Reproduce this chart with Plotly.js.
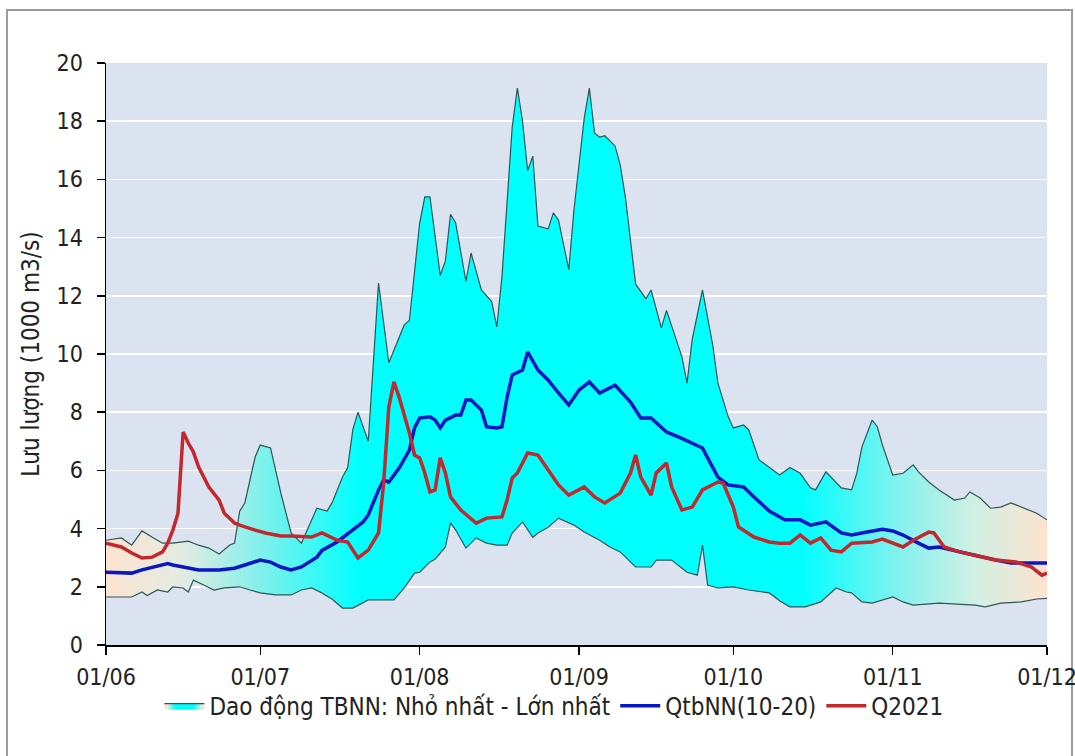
<!DOCTYPE html>
<html><head><meta charset="utf-8">
<script src="https://cdn.plot.ly/plotly-3.0.1.min.js"></script>
<style>
html,body{margin:0;padding:0;background:#fff;width:1075px;height:756px;overflow:hidden;}
#frame{position:absolute;left:6px;top:9px;width:1067px;height:800px;border:2px solid #9c9c9c;border-bottom:none;box-sizing:border-box;}
#chart{position:absolute;left:0;top:0;width:1075px;height:756px;}
</style></head><body><div id="frame"></div><div id="chart"></div>
<script>
// Upper bound of multi-year range (Lớn nhất)
const maxDates = ['2021-06-01','2021-06-04','2021-06-06','2021-06-08','2021-06-10','2021-06-12','2021-06-14','2021-06-17','2021-06-19','2021-06-21','2021-06-23','2021-06-25','2021-06-26','2021-06-27','2021-06-28','2021-06-30',
'2021-07-01','2021-07-03','2021-07-05','2021-07-07','2021-07-09','2021-07-11','2021-07-12','2021-07-14','2021-07-15','2021-07-17','2021-07-18','2021-07-19','2021-07-20','2021-07-22','2021-07-24','2021-07-26','2021-07-28','2021-07-29','2021-07-30',
'2021-08-01','2021-08-02','2021-08-03','2021-08-05','2021-08-06','2021-08-07','2021-08-08','2021-08-10','2021-08-11','2021-08-13','2021-08-14','2021-08-15','2021-08-16','2021-08-17','2021-08-19','2021-08-20','2021-08-21','2021-08-22','2021-08-23','2021-08-24','2021-08-26','2021-08-27','2021-08-28','2021-08-30','2021-08-31',
'2021-09-02','2021-09-03','2021-09-04','2021-09-05','2021-09-06','2021-09-08','2021-09-09','2021-09-10','2021-09-11','2021-09-12','2021-09-14','2021-09-15','2021-09-17','2021-09-18','2021-09-21','2021-09-22','2021-09-23','2021-09-25','2021-09-27','2021-09-28','2021-09-30',
'2021-10-01','2021-10-03','2021-10-04','2021-10-06','2021-10-08','2021-10-10','2021-10-12','2021-10-14','2021-10-16','2021-10-17','2021-10-19','2021-10-20','2021-10-22','2021-10-24','2021-10-25','2021-10-26','2021-10-28','2021-10-29','2021-10-30',
'2021-11-01','2021-11-03','2021-11-05','2021-11-06','2021-11-08','2021-11-10','2021-11-13','2021-11-15','2021-11-16','2021-11-18','2021-11-20','2021-11-22','2021-11-24','2021-11-26','2021-11-29','2021-12-01'];
const maxVals = [3.6,3.68,3.43,3.92,3.7,3.5,3.5,3.57,3.43,3.33,3.13,3.43,3.5,4.6,4.88,6.46,
6.87,6.77,5.22,3.85,3.5,4.3,4.7,4.6,4.9,5.77,6.1,7.4,8.0,7.0,12.44,9.7,10.6,11.0,11.15,
14.5,15.4,15.4,12.7,13.2,14.8,14.5,12.5,13.47,12.2,12.0,11.8,10.93,12.65,17.8,19.14,18.0,16.3,16.8,14.4,14.3,14.85,14.6,12.9,14.95,
18.1,19.14,17.6,17.45,17.5,17.15,16.5,15.4,13.8,12.4,11.9,12.2,10.9,11.5,9.9,9.0,10.5,12.2,10.3,9.0,7.84,
7.46,7.56,7.39,6.36,6.1,5.84,6.1,5.9,5.4,5.33,5.95,5.77,5.4,5.33,5.9,6.8,7.73,7.5,6.87,
5.84,5.9,6.19,5.95,5.6,5.33,4.98,5.05,5.26,5.05,4.7,4.74,4.88,4.74,4.53,4.3];

// Lower bound (Nhỏ nhất)
const minDates = ['2021-06-01','2021-06-06','2021-06-08','2021-06-09','2021-06-11','2021-06-13','2021-06-14','2021-06-16','2021-06-17','2021-06-18','2021-06-20','2021-06-22','2021-06-24','2021-06-27','2021-06-29',
'2021-07-01','2021-07-04','2021-07-07','2021-07-09','2021-07-11','2021-07-13','2021-07-15','2021-07-17','2021-07-19','2021-07-22','2021-07-24','2021-07-27','2021-07-29','2021-07-31',
'2021-08-01','2021-08-03','2021-08-04','2021-08-06','2021-08-07','2021-08-08','2021-08-10','2021-08-11','2021-08-12','2021-08-14','2021-08-16','2021-08-18','2021-08-19','2021-08-21','2021-08-22','2021-08-23','2021-08-24','2021-08-26','2021-08-28','2021-08-31',
'2021-09-02','2021-09-05','2021-09-07','2021-09-09','2021-09-12','2021-09-15','2021-09-16','2021-09-19','2021-09-22','2021-09-24','2021-09-25','2021-09-26','2021-09-28',
'2021-10-01','2021-10-04','2021-10-08','2021-10-10','2021-10-12','2021-10-15','2021-10-18','2021-10-21','2021-10-23','2021-10-24','2021-10-26','2021-10-28','2021-10-30',
'2021-11-01','2021-11-03','2021-11-05','2021-11-10','2021-11-14','2021-11-17','2021-11-19','2021-11-22','2021-11-26','2021-11-29','2021-12-01'];
const minVals = [1.65,1.65,1.82,1.7,1.89,1.82,2.0,1.96,1.82,2.23,2.06,1.89,1.96,2.0,1.89,
1.79,1.72,1.72,1.89,1.96,1.79,1.57,1.27,1.27,1.55,1.55,1.55,1.96,2.47,
2.5,2.85,2.95,3.37,4.2,3.95,3.33,3.5,3.68,3.5,3.43,3.43,3.85,4.23,3.95,3.7,3.85,4.05,4.36,4.12,
3.88,3.6,3.37,3.2,2.68,2.68,2.92,2.92,2.5,2.4,3.43,2.06,1.96,
2.0,1.89,1.79,1.52,1.31,1.31,1.48,1.96,1.82,1.79,1.48,1.44,1.55,
1.65,1.48,1.37,1.44,1.41,1.37,1.31,1.44,1.48,1.58,1.6];

// QtbNN(10-20)
const avgDates = ['2021-06-01','2021-06-04','2021-06-06','2021-06-08','2021-06-10','2021-06-13','2021-06-14','2021-06-17','2021-06-19','2021-06-23','2021-06-26','2021-06-28',
'2021-07-01','2021-07-03','2021-07-05','2021-07-07','2021-07-09','2021-07-12','2021-07-13','2021-07-16','2021-07-19','2021-07-21','2021-07-22','2021-07-24','2021-07-25','2021-07-26','2021-07-28','2021-07-30','2021-07-31',
'2021-08-01','2021-08-03','2021-08-04','2021-08-05','2021-08-06','2021-08-08','2021-08-09','2021-08-10','2021-08-11','2021-08-13','2021-08-14','2021-08-16','2021-08-17','2021-08-18','2021-08-19','2021-08-21','2021-08-22','2021-08-24','2021-08-25','2021-08-26','2021-08-28','2021-08-30',
'2021-09-01','2021-09-03','2021-09-05','2021-09-08','2021-09-11','2021-09-13','2021-09-15','2021-09-18','2021-09-21','2021-09-23','2021-09-25','2021-09-26','2021-09-28','2021-09-30',
'2021-10-03','2021-10-05','2021-10-08','2021-10-11','2021-10-14','2021-10-16','2021-10-19','2021-10-22','2021-10-24','2021-10-27','2021-10-30',
'2021-11-01','2021-11-03','2021-11-06','2021-11-08','2021-11-10','2021-11-14','2021-11-17','2021-11-21','2021-11-24','2021-11-28','2021-12-01'];
const avgVals = [2.5,2.5,2.47,2.58,2.68,2.8,2.75,2.64,2.58,2.58,2.64,2.75,
2.92,2.85,2.68,2.58,2.68,3.02,3.25,3.55,3.95,4.23,4.47,5.33,5.67,5.6,6.08,6.7,7.46,
7.8,7.84,7.73,7.46,7.73,7.9,7.9,8.42,8.42,8.08,7.5,7.46,7.5,8.52,9.28,9.45,10.07,9.45,9.28,9.1,8.66,8.25,
8.76,9.04,8.66,8.93,8.35,7.8,7.8,7.32,7.1,6.94,6.77,6.43,5.77,5.5,
5.43,5.09,4.6,4.3,4.3,4.12,4.23,3.85,3.78,3.88,3.98,
3.92,3.78,3.5,3.33,3.37,3.2,3.06,2.92,2.82,2.82,2.82];

// Q2021
const q2021Dates = ['2021-06-01','2021-06-04','2021-06-06','2021-06-08','2021-06-10','2021-06-12','2021-06-13','2021-06-14','2021-06-15','2021-06-16','2021-06-17','2021-06-18','2021-06-19','2021-06-21','2021-06-23','2021-06-24','2021-06-26','2021-06-27','2021-06-30',
'2021-07-02','2021-07-05','2021-07-07','2021-07-11','2021-07-13','2021-07-16','2021-07-18','2021-07-20','2021-07-22','2021-07-24','2021-07-25','2021-07-26','2021-07-27','2021-07-28','2021-07-30','2021-07-31',
'2021-08-01','2021-08-02','2021-08-03','2021-08-04','2021-08-05','2021-08-06','2021-08-07','2021-08-09','2021-08-11','2021-08-12','2021-08-14','2021-08-17','2021-08-18','2021-08-19','2021-08-20','2021-08-22','2021-08-24','2021-08-26','2021-08-28','2021-08-30',
'2021-09-02','2021-09-04','2021-09-06','2021-09-09','2021-09-11','2021-09-12','2021-09-13','2021-09-15','2021-09-16','2021-09-18','2021-09-19','2021-09-21','2021-09-23','2021-09-25','2021-09-28','2021-09-29',
'2021-10-01','2021-10-02','2021-10-05','2021-10-08','2021-10-10','2021-10-12','2021-10-14','2021-10-16','2021-10-18','2021-10-20','2021-10-22','2021-10-24','2021-10-28','2021-10-30',
'2021-11-01','2021-11-03','2021-11-05','2021-11-08','2021-11-09','2021-11-11','2021-11-14','2021-11-17','2021-11-21','2021-11-25','2021-11-28','2021-11-30','2021-12-01'];
const q2021Vals = [3.5,3.37,3.16,2.99,3.02,3.2,3.5,3.95,4.53,7.32,6.94,6.63,6.12,5.43,4.98,4.53,4.19,4.12,3.95,
3.85,3.75,3.75,3.71,3.85,3.6,3.54,2.99,3.26,3.85,5.57,8.18,9.04,8.52,7.29,6.53,
6.43,5.91,5.26,5.33,6.43,5.91,5.09,4.64,4.36,4.19,4.36,4.4,4.98,5.74,5.91,6.6,6.53,6.01,5.5,5.15,
5.43,5.09,4.88,5.22,5.91,6.53,5.77,5.15,5.91,6.25,5.43,4.64,4.74,5.33,5.6,5.57,
4.74,4.06,3.71,3.54,3.5,3.5,3.78,3.5,3.68,3.26,3.2,3.5,3.54,3.64,
3.5,3.37,3.6,3.88,3.85,3.37,3.2,3.09,2.92,2.85,2.68,2.4,2.47];

const rangeName = 'Dao động TBNN: Nhỏ nhất - Lớn nhất';
const avgName = 'QtbNN(10-20)';
const q2021Name = 'Q2021';

const FONT = 'DejaVu Sans Condensed, DejaVu Sans, sans-serif';
const TXT = '#222';

const traces = [
  {x: minDates, y: minVals, type: 'scatter', mode: 'lines', name: rangeName,
   line: {color: '#2d5656', width: 1.2}, showlegend: false, legendgroup: 'rng'},
  {x: maxDates, y: maxVals, type: 'scatter', mode: 'lines', name: rangeName,
   line: {color: '#2d5656', width: 1.2}, fill: 'tonexty', fillcolor: '#00ffff',
   fillgradient: {type: 'horizontal', colorscale: [
     [0, '#fde3d0'], [0.08, '#e4ece2'], [0.16, '#86f0ea'], [0.27, '#00ffff'],
     [0.74, '#00ffff'], [0.84, '#80f2ee'], [0.92, '#cff0e4'], [1, '#fde3cf']]},
   legendgroup: 'rng'},
  {x: avgDates, y: avgVals, type: 'scatter', mode: 'lines', name: avgName,
   line: {color: '#0a16c2', width: 3.5}},
  {x: q2021Dates, y: q2021Vals, type: 'scatter', mode: 'lines', name: q2021Name,
   line: {color: '#c2282c', width: 3.5}}
];

const layout = {
  width: 1075, height: 756,
  margin: {l: 106, r: 28, t: 63, b: 111},
  paper_bgcolor: 'rgba(0,0,0,0)',
  plot_bgcolor: '#dce3f0',
  font: {family: FONT, size: 22, color: TXT},
  showlegend: true,
  legend: {orientation: 'h', x: 0.476, xanchor: 'center', y: -0.105, yanchor: 'middle', itemwidth: 40,
           font: {family: FONT, size: 24, color: TXT}, bgcolor: 'rgba(0,0,0,0)', traceorder: 'normal'},
  xaxis: {type: 'date', range: ['2021-06-01', '2021-12-01'], dtick: 'M1', tick0: '2021-06-01',
          tickformat: '%d/%m', ticks: 'outside', ticklen: 8, tickwidth: 1.5, tickcolor: '#000',
          showline: true, linecolor: '#000', linewidth: 1.5, showgrid: false, zeroline: false,
          ticklabeloverflow: 'allow', ticklabelstandoff: 3,
          tickfont: {family: FONT, size: 23, color: TXT}},
  yaxis: {range: [0, 20], dtick: 2, tick0: 0, ticks: 'outside', ticklen: 8, tickwidth: 1.5, tickcolor: '#000',
          showline: true, linecolor: '#000', linewidth: 1.5, showgrid: true, gridcolor: '#ffffff', gridwidth: 1.5,
          zeroline: false, ticklabelstandoff: 9, tickfont: {family: FONT, size: 23, color: TXT},
          title: {text: 'Lưu lượng (1000 m3/s)', font: {family: FONT, size: 24, color: TXT}, standoff: 10}}
};

Plotly.newPlot('chart', traces, layout, {staticPlot: true, displayModeBar: false});
</script>
</body></html>
